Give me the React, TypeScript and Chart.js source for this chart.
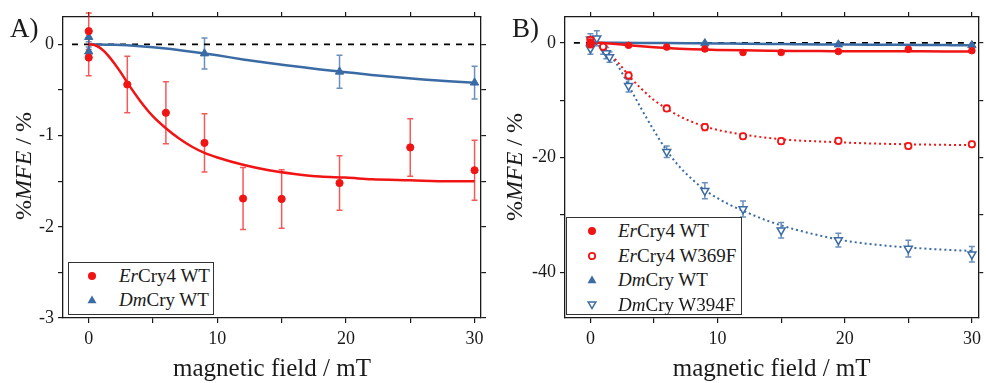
import React, { useEffect, useRef } from 'react';
import { Chart, registerables } from 'chart.js';

Chart.register(...registerables);

const SERIF = '"Liberation Serif", "DejaVu Serif", serif';
const RED = '#f01414';
const BLUE = '#3a6ba5';
const RED_ERR = 'rgba(240,20,20,0.7)';
const BLUE_ERR = 'rgba(58,107,165,0.75)';
const INK = '#1a1a1a';

// ---- measured data (magnetic field in mT, %MFE in %) ----
const erWT_x = [0, 0, 3, 6, 9, 12, 15, 19.5, 25, 30];
const erWT_y = [0.145, -0.145, -0.44, -0.75, -1.08, -1.69, -1.695, -1.52, -1.13, -1.38];
const erWT_err = [0.2, 0.2, 0.31, 0.34, 0.32, 0.34, 0.32, 0.3, 0.315, 0.33];

const dmWT_x = [0, 0, 9, 19.5, 30];
const dmWT_y = [0.08, -0.08, -0.1, -0.3, -0.42];
const dmWT_err = [0.05, 0.05, 0.17, 0.18, 0.18];

const erW369F_x = [0, 0, 1, 3, 6, 9, 12, 15, 19.5, 25, 30];
const erW369F_y = [0.5, -0.3, -0.7, -5.7, -11.45, -14.7, -16.3, -17.15, -17.1, -18.0, -17.7];
const erW369F_err = [0.5, 0.5, 0.5, 0.6, 0.5, 0.6, 0.5, 0.5, 0.5, 0.5, 0.5];

const dmW394F_x = [0, 0, 0.5, 1, 1.25, 1.5, 3, 6, 9, 12, 15, 19.5, 25, 30];
const dmW394F_y = [0.6, -1.0, 0.8, -1.0, -1.8, -2.5, -7.5, -19.0, -25.8, -29.0, -32.7, -34.4, -35.9, -36.9];
const dmW394F_err = [1.0, 1.0, 1.3, 1.0, 1.0, 0.9, 1.1, 1.0, 1.4, 1.4, 1.35, 1.2, 1.45, 1.35];

// ---- fitted curves ----
const erWTFit_x = [0, 0.5, 1, 1.5, 2, 2.5, 3, 4, 5, 6, 7, 8, 9, 10, 12, 14, 16, 18, 20, 22, 25, 28, 30];
const erWTFit_y = [0, -0.01, -0.05, -0.12, -0.21, -0.31, -0.42, -0.62, -0.79, -0.92, -1.03, -1.12, -1.19, -1.24, -1.32, -1.38, -1.42, -1.45, -1.46, -1.48, -1.49, -1.5, -1.5];

const dmWTFit_x = [0, 2, 4, 6, 8, 10, 12, 14, 16, 18, 20, 22, 24, 26, 28, 30];
const dmWTFit_y = [0, -0.005, -0.02, -0.045, -0.08, -0.12, -0.165, -0.205, -0.24, -0.275, -0.305, -0.335, -0.36, -0.385, -0.405, -0.42];

const erW369FFit_x = [0, 0.5, 1, 1.5, 2, 2.5, 3, 4, 5, 6, 7, 8, 9, 10, 12, 14, 16, 18, 20, 22, 25, 28, 30];
const erW369FFit_y = [0, -0.2, -0.9, -1.9, -3.0, -4.3, -5.7, -8.0, -10.0, -11.5, -12.8, -13.8, -14.6, -15.2, -16.0, -16.6, -17.0, -17.2, -17.4, -17.55, -17.7, -17.8, -17.85];

const dmW394FFit_x = [0, 0.5, 1, 1.5, 2, 2.5, 3, 4, 5, 6, 7, 8, 9, 10, 11, 12, 14, 16, 18, 20, 22, 25, 28, 30];
const dmW394FFit_y = [0, -0.2, -0.9, -2.0, -3.5, -5.3, -7.4, -11.5, -15.3, -18.8, -21.6, -23.8, -25.7, -27.1, -28.3, -29.3, -31.1, -32.5, -33.6, -34.5, -35.1, -35.7, -36.1, -36.3];

const zeroLine_x = [-1.3, 30.6];
const zeroLine_y = [0, 0];

// axis ranges
const xRange = [-2, 30.5];
const yRangeA = [-3, 0.3];
const yRangeB = [-48, 4.5];

const xTitle = 'magnetic field / mT';

type Pt = { x: number; y: number };
const pts = (xs: number[], ys: number[]): Pt[] => xs.map((x, i) => ({ x, y: ys[i] }));

const errorBarPlugin = {
  id: 'errorBars',
  beforeDatasetsDraw(chart: any) {
    const ctx = chart.ctx;
    const xs = chart.scales.x;
    const ys = chart.scales.y;
    chart.data.datasets.forEach((ds: any) => {
      if (!ds.errors) return;
      ctx.save();
      ctx.strokeStyle = ds.errorColor;
      ctx.lineWidth = 1.5;
      ds.data.forEach((p: Pt, j: number) => {
        const e = ds.errors[j];
        const px = xs.getPixelForValue(p.x);
        const t = ys.getPixelForValue(p.y + e);
        const b = ys.getPixelForValue(p.y - e);
        ctx.beginPath();
        ctx.moveTo(px, t);
        ctx.lineTo(px, b);
        ctx.moveTo(px - 3, t);
        ctx.lineTo(px + 3, t);
        ctx.moveTo(px - 3, b);
        ctx.lineTo(px + 3, b);
        ctx.stroke();
      });
      ctx.restore();
    });
  },
};

const scatterDs = (label: string, xs: number[], ys: number[], errs: number[], o: any) => ({
  label,
  data: pts(xs, ys),
  showLine: false,
  errors: errs,
  order: 0,
  clip: false,
  ...o,
});

const fitDs = (xs: number[], ys: number[], color: string, dotted: boolean) => ({
  label: 'fit',
  data: pts(xs, ys),
  showLine: true,
  borderColor: color,
  borderWidth: dotted ? 2 : 2.5,
  borderDash: dotted ? [2, 3] : [],
  pointRadius: 0,
  cubicInterpolationMode: 'monotone',
  fill: false,
  order: 1,
});

const zeroDs = () => ({
  label: 'zero',
  data: pts(zeroLine_x, zeroLine_y),
  showLine: true,
  borderColor: '#000',
  borderWidth: 1.8,
  borderDash: [6, 6],
  pointRadius: 0,
  fill: false,
  order: 2,
});

const isMult = (v: number, m: number) => Math.abs(v / m - Math.round(v / m)) < 1e-6;

function makeScales(yMin: number, yMax: number, yStep: number, yLabelEvery: number, leftW: number, rightW: number) {
  const grid = { drawOnChartArea: false, drawTicks: true, tickLength: 5, color: INK, tickColor: INK, tickWidth: 1.2, lineWidth: 1.2 };
  const border = { display: true, color: INK, width: 1.3 };
  const tickFont = { family: SERIF, size: 18 };
  return {
    x: {
      type: 'linear', position: 'bottom', min: xRange[0], max: xRange[1],
      afterFit: (s: any) => { s.height = 65; },
      grid, border,
      ticks: {
        stepSize: 5, includeBounds: false, autoSkip: false, maxRotation: 0,
        font: tickFont, color: INK, padding: 5,
        callback: (v: number) => (isMult(v, 10) ? String(Math.round(v)) : ''),
      },
      title: { display: true, text: xTitle, color: INK, font: { family: SERIF, size: 25, lineHeight: 1.06 }, padding: 0 },
    },
    x2: {
      type: 'linear', position: 'top', min: xRange[0], max: xRange[1],
      afterFit: (s: any) => { s.height = 17; },
      grid, border,
      ticks: { display: false, stepSize: 5, includeBounds: false, autoSkip: false },
    },
    y: {
      type: 'linear', position: 'left', min: yMin, max: yMax,
      afterFit: (s: any) => { s.width = leftW; },
      grid, border,
      ticks: {
        stepSize: yStep, includeBounds: false, autoSkip: false,
        font: tickFont, color: INK, padding: 4,
        callback: (v: number) => (isMult(v, yLabelEvery) ? String(Math.round(v)) : ''),
      },
    },
    y2: {
      type: 'linear', position: 'right', min: yMin, max: yMax,
      afterFit: (s: any) => { s.width = rightW; },
      grid, border,
      ticks: { display: false, stepSize: yStep, includeBounds: false, autoSkip: false },
    },
  };
}

function PanelChart({ left, datasets, scales }: { left: number; datasets: any[]; scales: any }) {
  const ref = useRef<HTMLCanvasElement>(null);
  useEffect(() => {
    const chart = new Chart(ref.current as HTMLCanvasElement, {
      type: 'scatter',
      data: { datasets },
      options: {
        responsive: false,
        animation: false,
        devicePixelRatio: 1,
        events: [],
        layout: { padding: 0 },
        plugins: { legend: { display: false }, tooltip: { enabled: false } },
        scales,
      } as any,
      plugins: [errorBarPlugin],
    });
    return () => chart.destroy();
  }, []);
  return (
    <canvas
      ref={ref}
      width={493}
      height={383}
      style={{ position: 'absolute', left, top: 0, width: 493, height: 383 }}
    />
  );
}

const Marker = ({ kind }: { kind: string }) => {
  const s = 12;
  let shape: any = null;
  if (kind === 'fillCircle') shape = <circle cx={6} cy={6} r={4} fill={RED} />;
  if (kind === 'openCircle') shape = <circle cx={6} cy={6} r={3.2} fill="#fff" stroke={RED} strokeWidth={1.8} />;
  if (kind === 'fillTri') shape = <polygon points="6,1.5 10.5,9.3 1.5,9.3" fill={BLUE} />;
  if (kind === 'openTriDown') shape = <polygon points="2.2,3 9.8,3 6,9.6" fill="#fff" stroke={BLUE} strokeWidth={1.5} />;
  return (
    <svg width={s} height={s} style={{ display: 'block' }}>
      {shape}
    </svg>
  );
};

type LegendRow = { kind: string; it: string; rest: string; cy: number };

function Legend({ box, markerX, textX, rows }: { box: number[]; markerX: number; textX: number; rows: LegendRow[] }) {
  return (
    <>
      <div
        style={{
          position: 'absolute', left: box[0], top: box[1], width: box[2] - box[0], height: box[3] - box[1],
          border: '1.5px solid #333', background: '#fff', boxSizing: 'border-box',
        }}
      />
      {rows.map((r, i) => (
        <React.Fragment key={i}>
          <div style={{ position: 'absolute', left: markerX - 6, top: r.cy - 6 }}>
            <Marker kind={r.kind} />
          </div>
          <div
            style={{
              position: 'absolute', left: textX, top: r.cy - 11, height: 22, lineHeight: '22px',
              fontFamily: SERIF, fontSize: 19, color: INK, whiteSpace: 'nowrap',
            }}
          >
            <i>{r.it}</i>{r.rest}
          </div>
        </React.Fragment>
      ))}
    </>
  );
}

const YTitle = ({ cx, cy }: { cx: number; cy: number }) => (
  <div
    style={{
      position: 'absolute', left: cx, top: cy, transform: 'translate(-50%, -50%) rotate(-90deg)',
      fontFamily: SERIF, fontSize: 24, lineHeight: '24px', color: INK, whiteSpace: 'nowrap',
    }}
  >
    %<i>MFE</i> / %
  </div>
);

const PanelLabel = ({ x, y, text }: { x: number; y: number; text: string }) => (
  <div style={{ position: 'absolute', left: x, top: y, fontFamily: SERIF, fontSize: 27, lineHeight: '27px', color: INK }}>
    {text}
  </div>
);

export default function App() {
  const redFilled = {
    pointStyle: 'circle', pointRadius: 3.6, pointBorderWidth: 1,
    pointBackgroundColor: RED, pointBorderColor: RED, errorColor: RED_ERR,
  };
  const blueFilled = {
    pointStyle: 'triangle', pointRadius: 4.8, pointBorderWidth: 1,
    pointBackgroundColor: BLUE, pointBorderColor: BLUE, errorColor: BLUE_ERR,
  };
  const dsA = [
    scatterDs('ErCry4 WT', erWT_x, erWT_y, erWT_err, redFilled),
    scatterDs('DmCry WT', dmWT_x, dmWT_y, dmWT_err, blueFilled),
    fitDs(erWTFit_x, erWTFit_y, RED, false),
    fitDs(dmWTFit_x, dmWTFit_y, BLUE, false),
    zeroDs(),
  ];
  const dsB = [
    scatterDs('ErCry4 WT', erWT_x, erWT_y, erWT_err, { ...redFilled, pointRadius: 3.3 }),
    scatterDs('ErCry4 W369F', erW369F_x, erW369F_y, erW369F_err, {
      pointStyle: 'circle', pointRadius: 3.2, pointBorderWidth: 1.8,
      pointBackgroundColor: '#fff', pointBorderColor: RED, errorColor: RED_ERR,
    }),
    scatterDs('DmCry WT', dmWT_x, dmWT_y, dmWT_err, blueFilled),
    scatterDs('DmCry W394F', dmW394F_x, dmW394F_y, dmW394F_err, {
      pointStyle: 'triangle', pointRotation: 180, pointRadius: 4.6, pointBorderWidth: 1.5,
      pointBackgroundColor: '#fff', pointBorderColor: BLUE, errorColor: BLUE_ERR,
    }),
    fitDs(erWTFit_x, erWTFit_y, RED, false),
    fitDs(dmWTFit_x, dmWTFit_y, BLUE, false),
    fitDs(erW369FFit_x, erW369FFit_y, RED, true),
    fitDs(dmW394FFit_x, dmW394FFit_y, BLUE, true),
    zeroDs(),
  ];

  const scalesA = makeScales(yRangeA[0], yRangeA[1], 0.5, 1, 63, 12);
  const scalesB = makeScales(yRangeB[0], yRangeB[1], 10, 20, 72, 2);

  return (
    <div style={{ position: 'absolute', left: 0, top: 0, width: 986, height: 383, overflow: 'hidden', background: '#fff' }}>
      <PanelChart left={0} datasets={dsA} scales={scalesA} />
      <PanelChart left={493} datasets={dsB} scales={scalesB} />
      <YTitle cx={23} cy={166} />
      <YTitle cx={514} cy={167} />
      <PanelLabel x={10} y={15} text="A)" />
      <PanelLabel x={512} y={15} text="B)" />
      <Legend
        box={[68, 262, 214, 315]}
        markerX={92}
        textX={119}
        rows={[
          { kind: 'fillCircle', it: 'Er', rest: 'Cry4 WT', cy: 276 },
          { kind: 'fillTri', it: 'Dm', rest: 'Cry WT', cy: 300 },
        ]}
      />
      <Legend
        box={[566, 217, 742, 315]}
        markerX={592}
        textX={618}
        rows={[
          { kind: 'fillCircle', it: 'Er', rest: 'Cry4 WT', cy: 231 },
          { kind: 'openCircle', it: 'Er', rest: 'Cry4 W369F', cy: 255.5 },
          { kind: 'fillTri', it: 'Dm', rest: 'Cry WT', cy: 280 },
          { kind: 'openTriDown', it: 'Dm', rest: 'Cry W394F', cy: 304.5 },
        ]}
      />
    </div>
  );
}
